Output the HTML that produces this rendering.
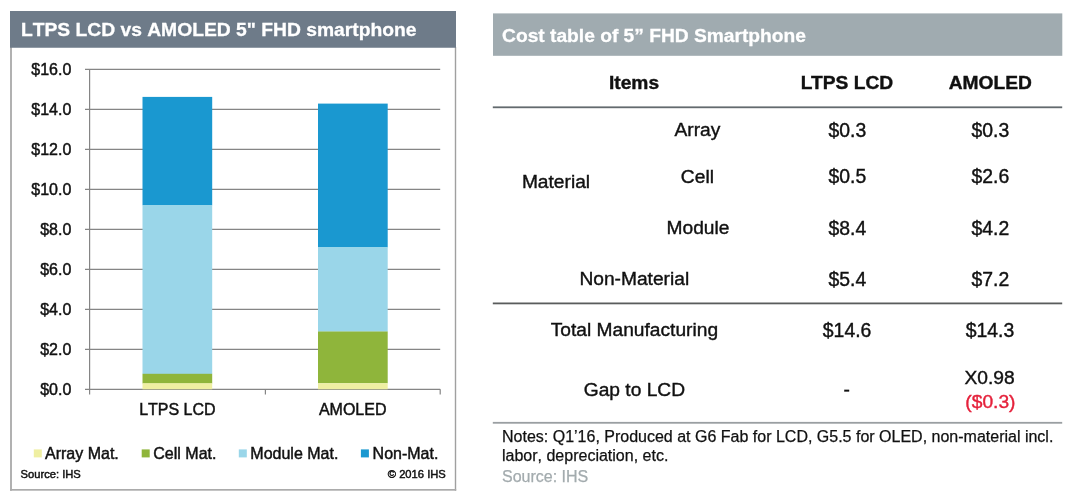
<!DOCTYPE html>
<html lang="en">
<head>
<meta charset="utf-8">
<title>LTPS LCD vs AMOLED 5" FHD smartphone</title>
<style>
html,body{margin:0;padding:0;background:#fff;}
body{font-kerning:none;width:1080px;height:503px;position:relative;overflow:hidden;font-family:"Liberation Sans",Arial,Helvetica,sans-serif;color:#111;}
.abs{position:absolute;}
/* chart panel */
#chart{position:absolute;left:0;top:0;width:470px;height:503px;}
#chart h1{position:absolute;left:10px;top:11px;width:446px;height:37px;margin:0;color:#fff;font-weight:bold;font-size:19.28px;-webkit-text-stroke:0.3px #fff;line-height:0;white-space:nowrap;}
#chart h1 span{position:absolute;left:10.9px;top:19.1px;}
#chart svg{position:absolute;left:0;top:0;}
#chart svg text{font-kerning:none;stroke:#111;stroke-width:0.45px;font-family:"Liberation Sans",Arial,Helvetica,sans-serif;fill:#111;}
/* table panel */
#tbl{position:absolute;left:493px;top:13px;width:569px;}
#tbl h2{margin:0;height:43px;color:#fff;font-weight:bold;font-size:19.2px;-webkit-text-stroke:0.3px #fff;line-height:0;white-space:nowrap;position:relative;}
#tbl h2 span{position:absolute;left:9.1px;top:22.8px;}
.t{position:absolute;white-space:nowrap;line-height:0;font-size:19.2px;font-kerning:normal;-webkit-text-stroke:0.4px currentColor;transform:translateX(-50%);}
.b{font-weight:bold;}
.n{font-size:19.4px;}
#notes{position:absolute;left:502px;top:426.5px;width:575px;font-size:16px;-webkit-text-stroke:0.25px currentColor;line-height:19.4px;color:#111;}
#notes .src{color:#a3abae;display:block;margin-top:1.9px;}
</style>
</head>
<body>

<div id="chart">
  <svg width="470" height="503" viewBox="0 0 470 503">
    <!-- panel frame -->
    <rect x="10" y="47" width="2" height="443.7" fill="#b1b1b1"/>
    <rect x="454.8" y="47" width="1.4" height="443.7" fill="#a0a0a0"/>
    <rect x="10" y="489" width="446.2" height="1.7" fill="#ababab"/>
    <rect x="10" y="11" width="446" height="36.75" fill="#6e7b89"/>
    <g stroke="#858585" stroke-width="1.2" fill="none">
      <line x1="85" y1="69.45" x2="440.2" y2="69.45"/>
      <line x1="85" y1="109.45" x2="440.2" y2="109.45"/>
      <line x1="85" y1="149.45" x2="440.2" y2="149.45"/>
      <line x1="85" y1="189.45" x2="440.2" y2="189.45"/>
      <line x1="85" y1="229.45" x2="440.2" y2="229.45"/>
      <line x1="85" y1="269.45" x2="440.2" y2="269.45"/>
      <line x1="85" y1="309.45" x2="440.2" y2="309.45"/>
      <line x1="85" y1="349.45" x2="440.2" y2="349.45"/>
      <line x1="85" y1="389.45" x2="440.2" y2="389.45"/>
      <line x1="89.6" y1="69" x2="89.6" y2="394.5"/>
      <line x1="265.4" y1="389.3" x2="265.4" y2="394.5"/>
      <line x1="440.2" y1="389.3" x2="440.2" y2="394.5"/>
    </g>
    <!-- LTPS LCD bar -->
    <rect x="142.5" y="96.9" width="69.7" height="108.3" fill="#1a98d0"/>
    <rect x="142.5" y="205" width="69.7" height="169" fill="#9ad6e9"/>
    <rect x="142.5" y="373.8" width="69.7" height="9.7" fill="#8fb53b"/>
    <rect x="142.5" y="383.3" width="69.7" height="6" fill="#efefa2"/>
    <!-- AMOLED bar -->
    <rect x="318" y="103.6" width="69.7" height="143.7" fill="#1a98d0"/>
    <rect x="318" y="247" width="69.7" height="84.7" fill="#9ad6e9"/>
    <rect x="318" y="331.5" width="69.7" height="51.8" fill="#8fb53b"/>
    <rect x="318" y="383.3" width="69.7" height="6" fill="#efefa2"/>
    <g font-size="16" text-anchor="end">
      <text x="71.3" y="74.7">$16.0</text>
      <text x="71.3" y="114.7">$14.0</text>
      <text x="71.3" y="154.7">$12.0</text>
      <text x="71.3" y="194.7">$10.0</text>
      <text x="71.3" y="234.7">$8.0</text>
      <text x="71.3" y="274.7">$6.0</text>
      <text x="71.3" y="314.7">$4.0</text>
      <text x="71.3" y="354.7">$2.0</text>
      <text x="71.3" y="394.7">$0.0</text>
    </g>
    <g font-size="16" text-anchor="middle">
      <text x="177.4" y="414.5">LTPS LCD</text>
      <text x="352.7" y="414.5">AMOLED</text>
    </g>
    <!-- legend -->
    <rect x="33.8" y="449.4" width="8" height="8" fill="#efefa2"/>
    <rect x="141.7" y="449.4" width="8" height="8" fill="#8fb53b"/>
    <rect x="238.8" y="449.4" width="8" height="8" fill="#9ad6e9"/>
    <rect x="360.9" y="449.4" width="8" height="8" fill="#1a98d0"/>
    <g font-size="16">
      <text x="45" y="458.6">Array Mat.</text>
      <text x="153.3" y="458.6">Cell Mat.</text>
      <text x="250.3" y="458.6">Module Mat.</text>
      <text x="372.6" y="458.6">Non-Mat.</text>
    </g>
    <g font-size="11.2">
      <text x="20.5" y="478.2">Source: IHS</text>
      <text x="445.8" y="478.2" text-anchor="end">© 2016 IHS</text>
    </g>
  </svg>
  <h1><span>LTPS LCD vs AMOLED 5" FHD smartphone</span></h1>
</div>

<svg class="abs" style="left:480px;top:0" width="600" height="503" viewBox="480 0 600 503">
  <rect x="493" y="13.4" width="569.3" height="42.4" fill="#a0abb0"/>
  <rect x="492.8" y="106.4" width="569.4" height="1.8" fill="#636a6e"/>
  <rect x="492.8" y="302.5" width="569.4" height="1.8" fill="#5a5c5c"/>
  <rect x="492.8" y="421.9" width="569.4" height="1.8" fill="#9a9fa2"/>
</svg>

<div id="tbl">
  <h2><span>Cost table of 5” FHD Smartphone</span></h2>
</div>

<div class="t b" style="left:634px;top:83px">Items</div>
<div class="t b" style="left:847px;top:83px">LTPS LCD</div>
<div class="t b" style="left:990.3px;top:83px">AMOLED</div>

<div class="t" style="left:556px;top:181.6px">Material</div>
<div class="t" style="left:697.4px;top:130px">Array</div>
<div class="t n" style="left:847.3px;top:130px">$0.3</div>
<div class="t n" style="left:990.4px;top:130px">$0.3</div>

<div class="t" style="left:697.4px;top:177px">Cell</div>
<div class="t n" style="left:847.3px;top:176.4px">$0.5</div>
<div class="t n" style="left:990.4px;top:176.4px">$2.6</div>

<div class="t" style="left:698px;top:228.3px">Module</div>
<div class="t n" style="left:847.3px;top:227.7px">$8.4</div>
<div class="t n" style="left:990.4px;top:227.7px">$4.2</div>

<div class="t" style="left:634.3px;top:279.4px">Non-Material</div>
<div class="t n" style="left:847.3px;top:279.4px">$5.4</div>
<div class="t n" style="left:990.4px;top:279.4px">$7.2</div>

<div class="t" style="left:634.4px;top:330.4px">Total Manufacturing</div>
<div class="t n" style="left:847.1px;top:330.4px">$14.6</div>
<div class="t n" style="left:990px;top:330.4px">$14.3</div>

<div class="t" style="left:634.4px;top:389.6px">Gap to LCD</div>
<div class="t" style="left:846.7px;top:390.3px">-</div>
<div class="t" style="left:989.6px;top:378px">X0.98</div>
<div class="t" style="left:990.4px;top:401.8px;color:#e5213b">($0.3)</div>


<div id="notes">Notes: Q1’16, Produced at G6 Fab for LCD, G5.5 for OLED, non-material incl.<br>labor, depreciation, etc.<span class="src">Source: IHS</span></div>

</body>
</html>
